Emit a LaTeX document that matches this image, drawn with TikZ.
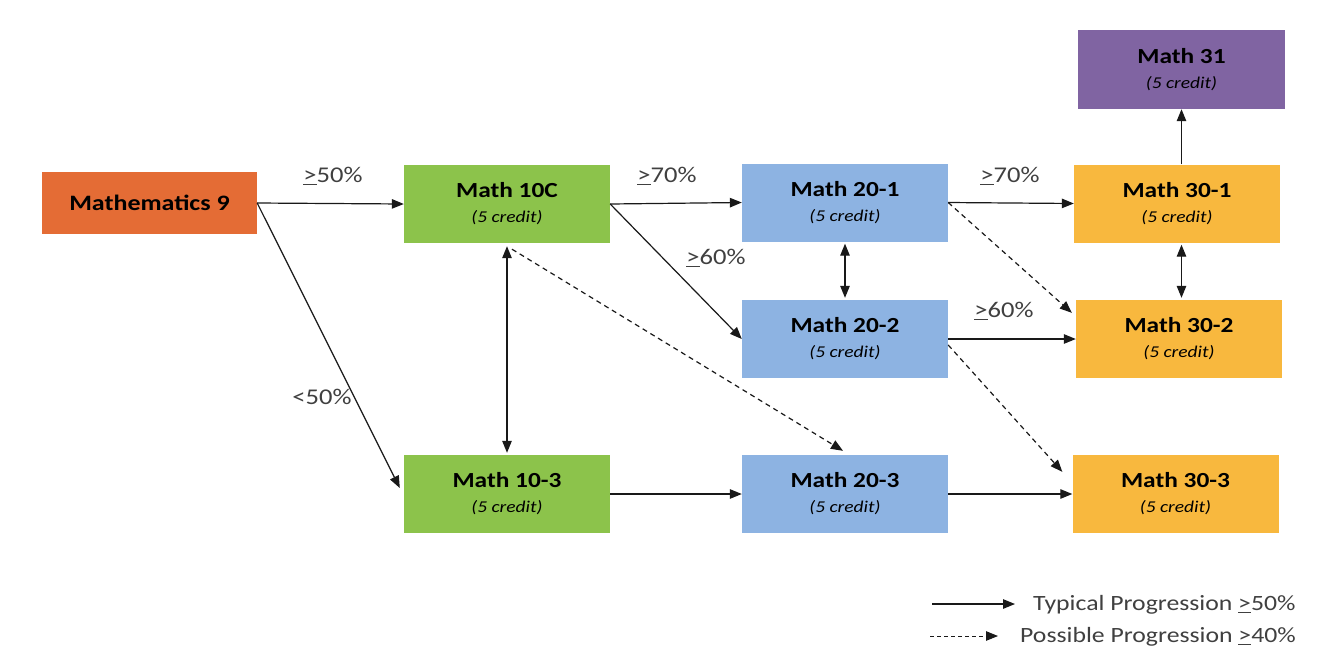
\documentclass[tikz,border=0pt]{standalone}
\usepackage{fontspec}
\setmainfont[FakeStretch=1.18]{Carlito}
\usetikzlibrary{arrows.meta,calc}
\definecolor{cOrange}{HTML}{E46C35}
\definecolor{cGreen}{HTML}{8CC34B}
\definecolor{cBlue}{HTML}{8DB3E2}
\definecolor{cYellow}{HTML}{F8B83E}
\definecolor{cPurple}{HTML}{8064A2}
\definecolor{labgray}{HTML}{404040}
\newcommand{\course}[1]{{\bfseries #1}\\[1pt]{\fontsize{16.5}{20}\selectfont\itshape (5 credit)}}
\newcommand{\myge}{\underline{>}}
\begin{document}
\begin{tikzpicture}[x=1pt,y=-1pt,
  coursebox/.style={rectangle, minimum width=206pt, minimum height=78pt, inner sep=0pt, align=center, text=black, font=\fontsize{21.5}{24}\selectfont},
  lab/.style={text=labgray, font=\fontsize{22.5}{25}\selectfont, inner sep=0pt},
  arr/.style={draw=black!90, line width=1.2pt, -{Triangle[length=12pt,width=9.5pt]}},
  darr/.style={draw=black!90, line width=1.2pt, {Triangle[length=12pt,width=9.5pt]}-{Triangle[length=12pt,width=9.5pt]}},
  dash arr/.style={arr, dash pattern=on 5pt off 4pt}]
\useasboundingbox[fill=white] (0,0) rectangle (1318,649);

\node[coursebox, fill=cOrange, minimum width=215pt, minimum height=62pt, font=\fontsize{22}{25}\selectfont\bfseries] (m9) at (149.5,203) {Mathematics 9};
\node[coursebox, fill=cGreen] (m10c) at (507,204) {\course{Math 10C}};
\node[coursebox, fill=cBlue] (m201) at (845,202.5) {\course{Math 20-1}};
\node[coursebox, fill=cYellow] (m301) at (1177,203.5) {\course{Math 30-1}};
\node[coursebox, fill=cPurple, minimum width=207pt, minimum height=79pt] (m31) at (1181.5,69.5) {\course{Math 31}};
\node[coursebox, fill=cBlue] (m202) at (845,339) {\course{Math 20-2}};
\node[coursebox, fill=cYellow] (m302) at (1179,339) {\course{Math 30-2}};
\node[coursebox, fill=cGreen] (m103) at (507,494) {\course{Math 10-3}};
\node[coursebox, fill=cBlue] (m203) at (845,494) {\course{Math 20-3}};
\node[coursebox, fill=cYellow] (m303) at (1175.5,494) {\course{Math 30-3}};

\draw[arr] (m9.east) -- (m10c.west);
\draw[arr] (m9.east) -- ($(m103.west)+(-4,-6)$);
\draw[arr] (m10c.east) -- (m201.west);
\draw[arr] (m10c.east) -- (m202.west);
\draw[darr, shorten <=3pt, shorten >=2pt] (m10c.south) -- (m103.north);
\draw[dash arr] ($(m10c.south)+(5,6)$) -- ($(m203.north)+(-2,-4)$);
\draw[darr, shorten <=2pt, shorten >=2pt] (m201.south) -- (m202.north);
\draw[arr] (m201.east) -- (m301.west);
\draw[dash arr] (m201.east) -- ($(m302.north west)+(-4,13)$);
\draw[arr] (m202.east) -- (m302.west);
\draw[dash arr] ($(m202.east)+(0,6)$) -- ($(m303.north west)+(-10,17)$);
\draw[arr] (m103.east) -- (m203.west);
\draw[arr] (m203.east) -- (m303.west);
\draw[arr] (m31.south |- m301.north) -- (m31.south);
\draw[darr, shorten <=2pt, shorten >=2pt] (m31.south |- m301.south) -- (m31.south |- m302.north);

\node[lab] (l1) at (333,176) {\myge50\%};
\node[lab] (l2) at (322,397) {<50\%};
\node[lab] (l3) at (667,176) {\myge70\%};
\node[lab] (l4) at (716,258) {\myge60\%};
\node[lab] (l5) at (1010,176) {\myge70\%};
\node[lab] (l6) at (1004,311) {\myge60\%};

\coordinate (lg1a) at (932,604);
\coordinate (lg1b) at (1015,604);
\coordinate (lg2a) at (930,636);
\coordinate (lg2b) at (998,636);
\draw[arr] (lg1a) -- (lg1b);
\draw[arr, line width=1pt, dash pattern=on 4pt off 3pt] (lg2a) -- (lg2b);
\node[lab, anchor=west, font=\fontsize{21.8}{24}\selectfont] (t1) at (1033,605) {Typical Progression \myge50\%};
\node[lab, anchor=west, font=\fontsize{21.8}{24}\selectfont] (t2) at (1020,637) {Possible Progression \myge40\%};
\end{tikzpicture}
\end{document}
